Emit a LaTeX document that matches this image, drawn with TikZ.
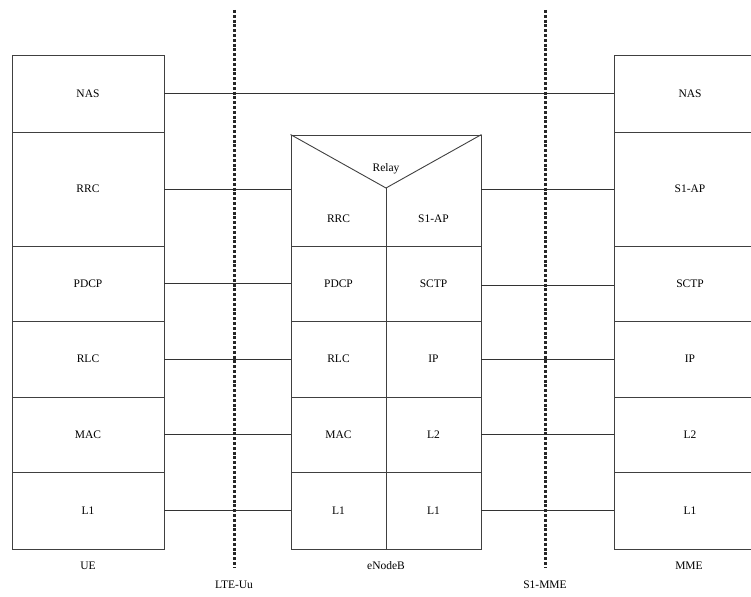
\documentclass[tikz,border=0pt]{standalone}
\usepackage{fontspec}
\setmainfont{Liberation Serif}
\usetikzlibrary{calc}
\begin{document}
\begin{tikzpicture}[x=1pt,y=-1pt,
  ln/.style={draw=black!75,line width=0.9pt},
  cell/.style={ln,rectangle,minimum width=152pt,inner sep=0pt,font=\fontsize{11.5}{13}\selectfont},
  half/.style={ln,rectangle,minimum width=95pt,inner sep=0pt,font=\fontsize{11.5}{13}\selectfont},
  lbl/.style={inner sep=0pt,font=\fontsize{11.5}{13}\selectfont},
  conn/.style={draw=black!80,line width=0.8pt},
  iface/.style={draw=black!85,line width=3pt,dash pattern=on 3pt off 1.8pt}]
\useasboundingbox (0,0) rectangle (751,596);
\clip (0,0) rectangle (751,596);
% UE stack
\node[cell,minimum height=77pt] (ueNAS) at (88,93.5) {NAS};
\node[cell,minimum height=114pt] (ueRRC) at (88,189) {RRC};
\node[cell,minimum height=75pt] (uePDCP) at (88,283.5) {PDCP};
\node[cell,minimum height=76pt] (ueRLC) at (88,359) {RLC};
\node[cell,minimum height=75pt] (ueMAC) at (88,434.5) {MAC};
\node[cell,minimum height=77pt] (ueL1) at (88,510.5) {L1};
\node[lbl] (ue) at (88,566) {UE};
% MME stack
\node[cell,minimum height=77pt] (mmeNAS) at (690,93.5) {NAS};
\node[cell,minimum height=114pt] (mmeS1) at (690,189) {S1-AP};
\node[cell,minimum height=75pt] (mmeSCTP) at (690,283.5) {SCTP};
\node[cell,minimum height=76pt] (mmeIP) at (690,359) {IP};
\node[cell,minimum height=75pt] (mmeL2) at (690,434.5) {L2};
\node[cell,minimum height=77pt] (mmeL1) at (690,510.5) {L1};
\node[lbl] (mme) at (689,566) {MME};
% eNodeB
\node[ln,rectangle,minimum width=190pt,minimum height=414pt,inner sep=0pt] (enb) at (386,342) {};
\coordinate (vtip) at (386,188);
\draw[ln] (enb.north west) -- (vtip) -- (enb.north east);
\draw[ln] (vtip) -- (386,549);
\node[lbl] (relay) at (386,169) {Relay};
\node[lbl] (enbRRC) at (338.5,219) {RRC};
\node[lbl] (enbS1) at (433.5,219) {S1-AP};
\node[half,minimum height=75pt] (enbPDCP) at (338.5,283.5) {PDCP};
\node[half,minimum height=75pt] (enbSCTP) at (433.5,283.5) {SCTP};
\node[half,minimum height=76pt] (enbRLC) at (338.5,359) {RLC};
\node[half,minimum height=76pt] (enbIP) at (433.5,359) {IP};
\node[half,minimum height=75pt] (enbMAC) at (338.5,434.5) {MAC};
\node[half,minimum height=75pt] (enbL2) at (433.5,434.5) {L2};
\node[half,minimum height=77pt] (enbL1a) at (338.5,510.5) {L1};
\node[half,minimum height=77pt] (enbL1b) at (433.5,510.5) {L1};
\node[lbl] (enbl) at (386,566) {eNodeB};
% connectors
\draw[conn] (ueNAS.east) -- (mmeNAS.west);
\draw[conn] (ueRRC.east) -- (ueRRC.east -| enb.west);
\draw[conn] (uePDCP.east) -- (enbPDCP.west);
\draw[conn] (ueRLC.east) -- (enbRLC.west);
\draw[conn] (ueMAC.east) -- (enbMAC.west);
\draw[conn] (ueL1.east) -- (enbL1a.west);
\draw[conn] (mmeS1.west -| enb.east) -- (mmeS1.west);
\draw[conn] ($(enbSCTP.east)+(0,2)$) -- ($(mmeSCTP.west)+(0,2)$);
\draw[conn] (enbIP.east) -- (mmeIP.west);
\draw[conn] (enbL2.east) -- (mmeL2.west);
\draw[conn] (enbL1b.east) -- (mmeL1.west);
% interfaces
\coordinate (uuT) at (234,10);
\coordinate (uuB) at (234,567);
\coordinate (s1T) at (545,10);
\coordinate (s1B) at (545,567);
\draw[iface] (uuT) -- (uuB);
\draw[iface] (s1T) -- (s1B);
\node[lbl] (uu) at (234,585) {LTE-Uu};
\node[lbl] (s1) at (545,585) {S1-MME};
\end{tikzpicture}
\end{document}
